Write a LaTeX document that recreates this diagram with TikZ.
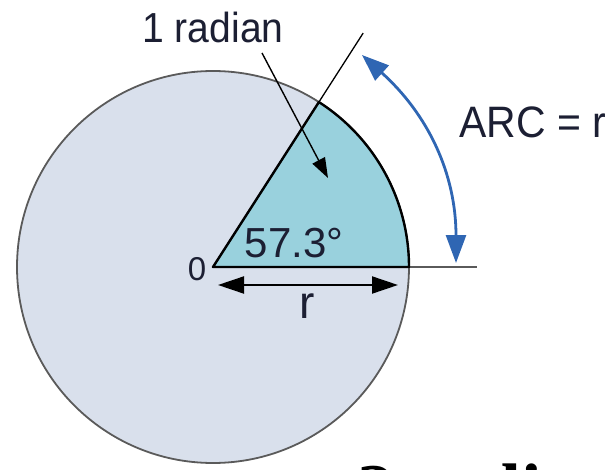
\documentclass[tikz,border=0pt]{standalone}
\usepackage{fontspec}
\setmainfont{Liberation Sans}
\newfontfamily\narrowsans[FakeStretch=0.93]{Liberation Sans}
\newfontfamily\bigserif{Liberation Serif}
\usepackage{xcolor}
\usetikzlibrary{arrows.meta}

\definecolor{diskfill}{HTML}{D9E0EC}
\definecolor{sectorfill}{HTML}{99D1DD}
\definecolor{rimgray}{HTML}{5A5A5A}
\definecolor{arcblue}{HTML}{2F66B3}
\definecolor{inkblue}{HTML}{1C1F33}

\begin{document}
\begin{tikzpicture}[x=1pt, y=1pt,
    lbl/.style={inner sep=0pt, text=inkblue},
    thinline/.style={line width=1.3pt},
    pointer/.style={-{Triangle[length=20pt, width=14pt]}, line width=1.4pt},
    span/.style={{Triangle[length=26pt, width=17pt]}-{Triangle[length=26pt, width=17pt]}, line width=2pt},
    arcarrow/.style={arcblue, line width=2.8pt,
      {Triangle[length=27pt, width=20pt]}-{Triangle[length=28pt, width=20pt]}}]

  \useasboundingbox (-213,-202) rectangle (402,267);
  \clip (-213,-202) rectangle (402,267);

  % --- circle and the one-radian sector ---
  \coordinate (O) at (0,0);
  \filldraw[fill=diskfill, draw=rimgray, line width=1.8pt] (O) circle (196);
  \fill[sectorfill] (O) -- (196,0) arc[start angle=0, end angle=57.3, radius=196] -- cycle;

  \coordinate (rayend) at (57.3:278);
  \coordinate (baseend) at (264,0);
  \draw[thinline] (O) -- (rayend);
  \draw[thinline, rimgray] (O) -- (baseend);
  \draw[line width=2.4pt, line join=round] (O) -- (196,0) arc[start angle=0, end angle=57.3, radius=196] -- cycle;

  % --- labels ---
  \node[lbl, anchor=base, font=\narrowsans\fontsize{42}{48}\selectfont] (rad) at (0,224) {1 radian};
  \node[lbl, anchor=base, font=\narrowsans\fontsize{44}{50}\selectfont] (arc) at (320,130) {ARC = r};
  \node[lbl, anchor=base, font=\fontsize{42}{48}\selectfont] (deg) at (81,10) {57.3°};
  \node[lbl, anchor=base, font=\fontsize{33}{38}\selectfont] (zero) at (-16,-13) {0};
  \node[lbl, anchor=base, font=\fontsize{46}{52}\selectfont] (rlab) at (94,-51) {r};
  \node[anchor=base west, inner sep=0pt, font=\bigserif\bfseries\fontsize{73}{80}\selectfont] (two) at (144,-247) {2 radians};

  % --- arrows ---
  \coordinate (ptail) at (49,214);
  \coordinate (phead) at (115,89);
  \draw[pointer] (ptail) -- (phead);

  \coordinate (rleft) at (5,-18);
  \coordinate (rright) at (185,-18);
  \draw[span] (rleft) -- (rright);

  \coordinate (arctop) at (149,212);
  \coordinate (arcbot) at (243,4);
  \draw[arcarrow] (arctop) to[out=-42, in=90] (arcbot);
\end{tikzpicture}
\end{document}
